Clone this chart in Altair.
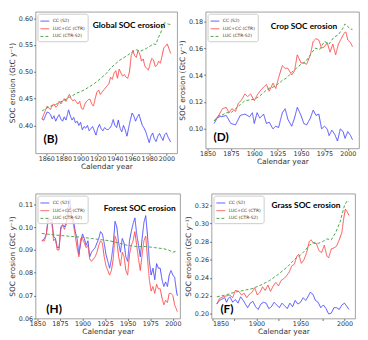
import altair as alt
import pandas as pd

SERIES = ["CC (S2)", "LUC+CC (CTR)", "LUC (CTR-S2)"]
COLORS = ["#4d4dff", "#ff4d4d", "#4da64d"]
DASHES = [[1, 0], [1, 0], [3, 2]]
YTITLE = "SOC erosion (GtC y\u207b\u00b9)"
XTITLE = "Calendar year"

# ---------------- Panel B : Global ----------------
b_cc_years = [1855, 1857, 1859, 1861, 1863, 1865, 1867, 1869, 1871, 1873, 1875, 1877, 1879, 1881, 1883, 1886, 1888, 1890, 1892, 1894, 1896, 1898, 1900, 1902, 1904, 1906, 1908, 1910, 1912, 1914, 1916, 1918, 1920, 1922, 1924, 1926, 1928, 1930, 1932, 1934, 1936, 1938, 1940, 1942, 1944, 1946, 1948, 1950, 1952, 1954, 1956, 1958, 1960, 1962, 1964, 1966, 1968, 1970, 1972, 1974, 1976, 1978, 1980, 1982, 1984, 1986, 1988, 1990, 1992, 1994, 1996, 1998, 2000, 2002, 2004, 2005]
b_cc_vals = [0.412, 0.410, 0.418, 0.425, 0.424, 0.420, 0.412, 0.418, 0.408, 0.415, 0.420, 0.412, 0.408, 0.416, 0.410, 0.429, 0.418, 0.410, 0.415, 0.405, 0.408, 0.400, 0.406, 0.392, 0.398, 0.395, 0.400, 0.390, 0.394, 0.398, 0.390, 0.382, 0.395, 0.402, 0.394, 0.390, 0.396, 0.393, 0.392, 0.395, 0.400, 0.411, 0.400, 0.396, 0.410, 0.395, 0.388, 0.400, 0.392, 0.380, 0.395, 0.410, 0.423, 0.418, 0.408, 0.415, 0.421, 0.410, 0.400, 0.395, 0.388, 0.378, 0.368, 0.380, 0.386, 0.375, 0.370, 0.380, 0.385, 0.378, 0.372, 0.383, 0.386, 0.378, 0.372, 0.369]
b_ctr_years = [1855, 1857, 1859, 1861, 1863, 1865, 1867, 1869, 1871, 1873, 1875, 1877, 1879, 1881, 1883, 1885, 1887, 1889, 1891, 1893, 1895, 1897, 1899, 1901, 1903, 1905, 1907, 1909, 1911, 1913, 1915, 1917, 1919, 1921, 1923, 1925, 1927, 1929, 1931, 1933, 1935, 1937, 1939, 1941, 1943, 1945, 1947, 1949, 1951, 1953, 1955, 1957, 1959, 1961, 1963, 1965, 1967, 1969, 1971, 1973, 1975, 1977, 1979, 1981, 1983, 1985, 1987, 1989, 1991, 1993, 1995, 1997, 1999, 2001, 2003, 2005]
b_ctr_vals = [0.412, 0.420, 0.428, 0.436, 0.432, 0.430, 0.438, 0.440, 0.434, 0.437, 0.445, 0.440, 0.445, 0.450, 0.445, 0.452, 0.458, 0.450, 0.446, 0.448, 0.444, 0.440, 0.445, 0.432, 0.430, 0.440, 0.445, 0.448, 0.449, 0.440, 0.436, 0.450, 0.462, 0.466, 0.458, 0.462, 0.466, 0.470, 0.474, 0.478, 0.490, 0.486, 0.498, 0.502, 0.488, 0.505, 0.498, 0.492, 0.495, 0.490, 0.488, 0.500, 0.530, 0.540, 0.530, 0.527, 0.540, 0.533, 0.520, 0.524, 0.510, 0.507, 0.503, 0.515, 0.525, 0.522, 0.510, 0.512, 0.520, 0.516, 0.530, 0.545, 0.548, 0.552, 0.543, 0.534]
b_luc_years = [1855, 1860, 1865, 1870, 1875, 1880, 1885, 1890, 1895, 1900, 1905, 1910, 1915, 1920, 1925, 1930, 1935, 1940, 1945, 1950, 1955, 1960, 1965, 1970, 1975, 1980, 1985, 1988, 1990, 1993, 1996, 1998, 2000, 2002, 2005]
b_luc_vals = [0.427, 0.432, 0.436, 0.438, 0.443, 0.446, 0.451, 0.455, 0.460, 0.463, 0.467, 0.472, 0.477, 0.483, 0.490, 0.497, 0.507, 0.514, 0.521, 0.526, 0.531, 0.537, 0.541, 0.539, 0.542, 0.547, 0.552, 0.551, 0.562, 0.571, 0.586, 0.592, 0.590, 0.589, 0.588]

# ---------------- Panel D : Crop ----------------
d_cc_years = [1857, 1862, 1865, 1870, 1875, 1880, 1885, 1890, 1895, 1898, 1900, 1903, 1906, 1910, 1913, 1916, 1920, 1923, 1926, 1930, 1933, 1936, 1940, 1943, 1946, 1950, 1953, 1956, 1960, 1963, 1966, 1969, 1972, 1975, 1978, 1980, 1983, 1986, 1989, 1992, 1995, 1997, 2000, 2003, 2005]
d_cc_vals = [0.104, 0.110, 0.109, 0.110, 0.104, 0.103, 0.110, 0.111, 0.109, 0.112, 0.104, 0.112, 0.108, 0.111, 0.104, 0.105, 0.100, 0.102, 0.101, 0.112, 0.115, 0.107, 0.102, 0.108, 0.116, 0.110, 0.104, 0.103, 0.108, 0.114, 0.110, 0.111, 0.100, 0.102, 0.100, 0.095, 0.099, 0.096, 0.091, 0.100, 0.098, 0.093, 0.098, 0.095, 0.092]
d_ctr_years = [1857, 1862, 1866, 1870, 1873, 1876, 1880, 1883, 1886, 1890, 1893, 1896, 1900, 1903, 1906, 1910, 1913, 1916, 1920, 1923, 1926, 1930, 1933, 1936, 1940, 1943, 1946, 1950, 1953, 1956, 1960, 1963, 1966, 1969, 1972, 1975, 1978, 1981, 1984, 1987, 1990, 1993, 1996, 1998, 2000, 2003, 2005]
d_ctr_vals = [0.106, 0.110, 0.115, 0.116, 0.112, 0.115, 0.113, 0.119, 0.121, 0.126, 0.124, 0.126, 0.121, 0.125, 0.128, 0.131, 0.133, 0.128, 0.134, 0.130, 0.138, 0.147, 0.145, 0.145, 0.140, 0.143, 0.155, 0.149, 0.149, 0.148, 0.155, 0.165, 0.167, 0.166, 0.160, 0.161, 0.164, 0.157, 0.163, 0.155, 0.163, 0.167, 0.171, 0.172, 0.166, 0.164, 0.161]
d_luc_years = [1857, 1865, 1870, 1875, 1880, 1885, 1890, 1900, 1905, 1910, 1915, 1920, 1925, 1930, 1935, 1940, 1945, 1950, 1955, 1960, 1965, 1970, 1975, 1980, 1985, 1990, 1995, 1997, 2000, 2003, 2005]
d_luc_vals = [0.106, 0.110, 0.112, 0.112, 0.115, 0.118, 0.121, 0.122, 0.124, 0.127, 0.130, 0.131, 0.133, 0.136, 0.138, 0.142, 0.145, 0.148, 0.150, 0.155, 0.160, 0.159, 0.165, 0.163, 0.168, 0.170, 0.175, 0.178, 0.176, 0.174, 0.174]

# ---------------- Panel H : Forest ----------------
h_years = [1855, 1858, 1860, 1862, 1864, 1866, 1868, 1870, 1872, 1874, 1876, 1878, 1880, 1882, 1884, 1886, 1888, 1890, 1892, 1894, 1896, 1898, 1900, 1902, 1904, 1906, 1908, 1910, 1912, 1914, 1916, 1918, 1920, 1922, 1924, 1926, 1928, 1930, 1932, 1934, 1936, 1938, 1940, 1942, 1944, 1946, 1948, 1950, 1952, 1954, 1956, 1958, 1960, 1962, 1964, 1966, 1968, 1970, 1972, 1974, 1976, 1978, 1980, 1982, 1984, 1986, 1988, 1990, 1992, 1994, 1996, 1998, 2000, 2002, 2004, 2005]
h_cc_vals = [0.094, 0.095, 0.097, 0.104, 0.103, 0.1035, 0.096, 0.095, 0.091, 0.091, 0.100, 0.101, 0.100, 0.102, 0.108, 0.112, 0.105, 0.103, 0.098, 0.095, 0.088, 0.093, 0.097, 0.095, 0.092, 0.094, 0.087, 0.089, 0.090, 0.091, 0.093, 0.095, 0.098, 0.097, 0.093, 0.088, 0.085, 0.082, 0.086, 0.092, 0.1025, 0.100, 0.093, 0.089, 0.095, 0.093, 0.087, 0.085, 0.094, 0.098, 0.1015, 0.104, 0.097, 0.092, 0.087, 0.095, 0.102, 0.105, 0.096, 0.085, 0.079, 0.082, 0.077, 0.084, 0.082, 0.082, 0.077, 0.074, 0.076, 0.074, 0.079, 0.081, 0.079, 0.078, 0.072, 0.070]
h_ctr_vals = [0.094, 0.094, 0.097, 0.103, 0.102, 0.102, 0.094, 0.095, 0.090, 0.090, 0.099, 0.101, 0.099, 0.101, 0.106, 0.109, 0.104, 0.101, 0.096, 0.091, 0.087, 0.095, 0.095, 0.093, 0.091, 0.092, 0.086, 0.085, 0.086, 0.087, 0.089, 0.092, 0.094, 0.093, 0.087, 0.083, 0.081, 0.079, 0.081, 0.086, 0.096, 0.094, 0.087, 0.083, 0.089, 0.087, 0.081, 0.079, 0.088, 0.092, 0.094, 0.098, 0.092, 0.086, 0.081, 0.088, 0.094, 0.096, 0.086, 0.077, 0.072, 0.074, 0.071, 0.075, 0.073, 0.073, 0.069, 0.066, 0.068, 0.067, 0.071, 0.071, 0.070, 0.066, 0.064, 0.063]
h_luc_years = [1855, 1870, 1885, 1900, 1910, 1920, 1930, 1940, 1950, 1960, 1970, 1980, 1990, 1995, 2000, 2003, 2005]
h_luc_vals = [0.0972, 0.0965, 0.0960, 0.0955, 0.0950, 0.0945, 0.0940, 0.0930, 0.0920, 0.0915, 0.0915, 0.0910, 0.0905, 0.0900, 0.0890, 0.0893, 0.0895]

# ---------------- Panel F : Grass ----------------
f_cc_years = [1855, 1858, 1860, 1864, 1866, 1868, 1870, 1873, 1876, 1879, 1882, 1885, 1888, 1890, 1893, 1896, 1899, 1902, 1905, 1908, 1911, 1914, 1917, 1920, 1923, 1926, 1929, 1932, 1935, 1938, 1941, 1944, 1947, 1950, 1953, 1956, 1959, 1961, 1964, 1967, 1970, 1973, 1976, 1979, 1982, 1985, 1988, 1991, 1994, 1997, 2000, 2003, 2005]
f_cc_vals = [0.211, 0.215, 0.216, 0.218, 0.213, 0.217, 0.219, 0.213, 0.216, 0.212, 0.219, 0.215, 0.210, 0.207, 0.212, 0.214, 0.208, 0.205, 0.211, 0.213, 0.212, 0.206, 0.208, 0.213, 0.210, 0.207, 0.212, 0.209, 0.206, 0.212, 0.208, 0.215, 0.211, 0.213, 0.218, 0.215, 0.220, 0.224, 0.222, 0.215, 0.213, 0.207, 0.210, 0.206, 0.200, 0.201, 0.207, 0.207, 0.205, 0.210, 0.212, 0.208, 0.205]
f_ctr_years = [1855, 1858, 1862, 1866, 1870, 1873, 1876, 1880, 1883, 1886, 1889, 1892, 1895, 1898, 1901, 1904, 1907, 1910, 1913, 1916, 1919, 1922, 1925, 1928, 1931, 1934, 1937, 1940, 1943, 1946, 1948, 1951, 1954, 1957, 1960, 1962, 1965, 1968, 1971, 1974, 1977, 1980, 1982, 1985, 1988, 1991, 1994, 1997, 1999, 2001, 2003, 2005]
f_ctr_vals = [0.211, 0.217, 0.219, 0.220, 0.221, 0.218, 0.226, 0.225, 0.221, 0.223, 0.218, 0.222, 0.224, 0.229, 0.221, 0.224, 0.230, 0.226, 0.232, 0.225, 0.231, 0.235, 0.231, 0.237, 0.239, 0.242, 0.246, 0.253, 0.255, 0.264, 0.266, 0.256, 0.260, 0.268, 0.280, 0.282, 0.278, 0.278, 0.270, 0.268, 0.276, 0.264, 0.262, 0.272, 0.273, 0.275, 0.282, 0.290, 0.305, 0.316, 0.313, 0.309]
f_luc_years = [1855, 1865, 1875, 1885, 1895, 1905, 1915, 1925, 1935, 1945, 1950, 1955, 1960, 1965, 1970, 1975, 1980, 1985, 1990, 1995, 2000, 2003, 2005]
f_luc_vals = [0.219, 0.221, 0.224, 0.226, 0.228, 0.232, 0.237, 0.244, 0.252, 0.262, 0.265, 0.270, 0.276, 0.279, 0.278, 0.280, 0.283, 0.282, 0.290, 0.302, 0.320, 0.325, 0.324]

# ---------------- Texts ----------------
panel_titles = ["Global SOC erosion", "Crop SOC erosion", "Forest SOC erosion", "Grass SOC erosion"]
panel_tags = ["(B)", "(D)", "(H)", "(F)"]


def frame(parts):
    rows = []
    for name, yrs, vals in parts:
        for y, v in zip(yrs, vals):
            rows.append({"year": y, "value": v, "series": name})
    return pd.DataFrame(rows)


def panel(df, title, tag, xdom, xticks, ydom, yticks, w, h, tpos, gpos, ypad):
    leg = alt.Legend(title=None)
    lines = alt.Chart(df).mark_line(strokeWidth=1, clip=True).encode(
        x=alt.X("year:Q", scale=alt.Scale(domain=xdom, nice=False, zero=False),
                axis=alt.Axis(values=xticks, format="d", title=XTITLE)),
        y=alt.Y("value:Q", scale=alt.Scale(domain=ydom, nice=False, zero=False),
                axis=alt.Axis(values=yticks, format=".2f", title=YTITLE, labelPadding=ypad)),
        color=alt.Color("series:N", scale=alt.Scale(domain=SERIES, range=COLORS), legend=leg),
        strokeDash=alt.StrokeDash("series:N", scale=alt.Scale(domain=SERIES, range=DASHES), legend=leg),
    )
    ttl = alt.Chart(pd.DataFrame({"t": [title]})).mark_text(
        font="Lato", fontWeight="bold", fontSize=8.5, align="center", baseline="middle", color="black"
    ).encode(x=alt.value(tpos[0]), y=alt.value(tpos[1]), text="t:N")
    tg = alt.Chart(pd.DataFrame({"t": [tag]})).mark_text(
        font="Lato", fontWeight="bold", fontSize=12, align="left", baseline="middle", color="black"
    ).encode(x=alt.value(gpos[0]), y=alt.value(gpos[1]), text="t:N")
    return alt.layer(lines, ttl, tg).properties(width=w, height=h)


dfB = frame([(SERIES[0], b_cc_years, b_cc_vals), (SERIES[1], b_ctr_years, b_ctr_vals), (SERIES[2], b_luc_years, b_luc_vals)])
dfD = frame([(SERIES[0], d_cc_years, d_cc_vals), (SERIES[1], d_ctr_years, d_ctr_vals), (SERIES[2], d_luc_years, d_luc_vals)])
dfH = frame([(SERIES[0], h_years, h_cc_vals), (SERIES[1], h_years, h_ctr_vals), (SERIES[2], h_luc_years, h_luc_vals)])
dfF = frame([(SERIES[0], f_cc_years, f_cc_vals), (SERIES[1], f_ctr_years, f_ctr_vals), (SERIES[2], f_luc_years, f_luc_vals)])

pB = panel(dfB, panel_titles[0], panel_tags[0], [1847.5, 2012.5], list(range(1860, 2001, 20)),
           [0.348, 0.612], [0.40, 0.45, 0.50, 0.55, 0.60], 144, 144, (95, 14), (8, 129), 1)
pD = panel(dfD, panel_titles[1], panel_tags[1], [1848, 2012], list(range(1850, 2001, 25)),
           [0.0855, 0.187], [0.10, 0.12, 0.14, 0.16, 0.18], 156, 139, (100, 15), (8, 127), 1)
pH = panel(dfH, panel_titles[2], panel_tags[2], [1848, 2008], list(range(1850, 2001, 25)),
           [0.06, 0.1146], [0.06, 0.07, 0.08, 0.09, 0.10, 0.11], 147, 127, (106, 15), (11, 117), 1)
pF = panel(dfF, panel_titles[3], panel_tags[3], [1849, 2012], list(range(1850, 2001, 25)),
           [0.195, 0.333], [0.20, 0.22, 0.24, 0.26, 0.28, 0.30, 0.32], 146, 127, (96, 12), (9, 117), 1)

top = alt.hconcat(pB, pD, spacing=0).resolve_scale(color="independent", strokeDash="independent").resolve_legend(color="independent", strokeDash="independent")
bottom = alt.hconcat(pH, pF, spacing=2).resolve_scale(color="independent", strokeDash="independent").resolve_legend(color="independent", strokeDash="independent")

chart = alt.vconcat(top, bottom, spacing=22).resolve_scale(
    color="independent", strokeDash="independent"
).resolve_legend(color="independent", strokeDash="independent").properties(
    padding=0
).configure_view(
    stroke="#888888", strokeWidth=0.8
).configure_axis(
    grid=False, domain=False, tickSize=2, tickColor="#555555", tickWidth=0.8,
    labelFont="DejaVu Sans", labelFontSize=6.5, labelColor="#333333",
    titleFont="DejaVu Sans", titleFontSize=7.5, titleFontWeight="normal", titleColor="#333333",
    titlePadding=2
).configure_axisX(labelPadding=0, titlePadding=1).configure_legend(
    orient="top-left", offset=2, padding=2.5, labelFont="DejaVu Sans", labelFontSize=4.5,
    labelColor="#333333", symbolType="stroke", symbolSize=80, symbolStrokeWidth=1,
    rowPadding=0.8, strokeColor="#cccccc", fillColor="rgba(255,255,255,0.8)", cornerRadius=2,
    labelOffset=3, titlePadding=0
)

chart.save("out.html", embed_options={"renderer": "svg", "actions": False})
